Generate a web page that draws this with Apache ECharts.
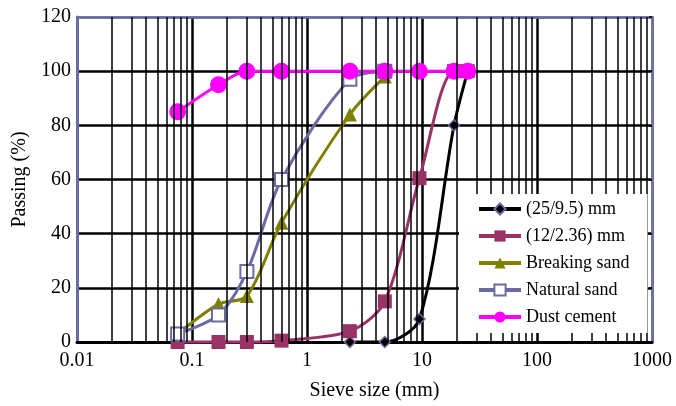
<!DOCTYPE html>
<html>
<head>
<meta charset="utf-8">
<script src="https://cdn.jsdelivr.net/npm/echarts@6/dist/echarts.min.js"></script>
<style>
html,body{margin:0;padding:0;background:#fff;}
#chart{width:676px;height:406px;}
</style>
</head>
<body>
<div id="chart"></div>
<script>
// ---- data ----
const seriesNames = ['(25/9.5) mm', '(12/2.36) mm', 'Breaking sand', 'Natural sand', 'Dust cement'];

const sieve2595 = [2.36, 4.75, 9.5, 19, 25];
const pass2595  = [0, 0, 8.5, 80, 100];

const sieve12236 = [0.075, 0.17, 0.3, 0.6, 2.36, 4.75, 9.5, 19, 25];
const pass12236  = [0, 0, 0, 0.5, 4, 15, 60.5, 100, 100];

const sieveBreaking = [0.075, 0.17, 0.3, 0.6, 2.36, 4.75];
const passBreaking  = [3, 14, 17, 44, 84, 98];

const sieveNatural = [0.075, 0.17, 0.3, 0.6, 2.36, 4.75];
const passNatural  = [3, 10, 26, 60, 97, 100];

const sieveDust = [0.075, 0.17, 0.3, 0.6, 2.36, 4.75, 9.5, 19, 25];
const passDust  = [85, 95, 100, 100, 100, 100, 100, 100, 100];

const yTicks = [0, 20, 40, 60, 80, 100, 120];
const xDecades = [0.01, 0.1, 1, 10, 100, 1000];

// ---- helpers ----
const SERIF = 'Liberation Serif';
const SLATE = '#6B6BA3';
function pairs(xs, ys) { return xs.map((x, i) => [x, ys[i]]); }
// minor log gridlines 2..9 in each decade
const minorLines = [];
for (let d = 0; d < xDecades.length - 1; d++) {
  for (let k = 2; k <= 9; k++) {
    minorLines.push({ xAxis: Number((xDecades[d] * k).toPrecision(6)) });
  }
}
const ySplitColors = yTicks.map((v, i) => i === yTicks.length - 1 ? SLATE : '#000');
const xSplitColors = xDecades.map((v, i) => (i === 0 || i === xDecades.length - 1) ? SLATE : '#000');

const chart = echarts.init(document.getElementById('chart'), null, { renderer: 'canvas' });

function lineSeries(name, data, color, symbol, size, extra) {
  return Object.assign({
    name: name,
    type: 'line',
    data: data,
    smooth: 0.3,
    clip: false,
    symbol: symbol,
    symbolSize: size,
    lineStyle: { color: color, width: 3 },
    itemStyle: { color: color },
    z: 3,
    animation: false
  }, extra || {});
}

chart.setOption({
  backgroundColor: '#fff',
  animation: false,
  textStyle: { fontFamily: SERIF },
  grid: { left: 77, right: 24, top: 17, bottom: 63, containLabel: false },
  legend: {
    data: seriesNames,
    orient: 'vertical',
    left: 459,
    top: 194,
    padding: [6, 18, 7, 18],
    backgroundColor: '#fff',
    itemWidth: 42,
    itemHeight: 14,
    itemGap: 9,
    lineStyle: { width: 4 },
    textStyle: { fontFamily: SERIF, fontSize: 18, color: '#000', lineHeight: 18 },
    z: 10
  },
  xAxis: [{
    type: 'log',
    logBase: 10,
    min: 0.01,
    max: 1000,
    splitNumber: 5,
    name: 'Sieve size (mm)',
    nameLocation: 'middle',
    nameGap: 39,
    nameTextStyle: { fontFamily: SERIF, fontSize: 20, color: '#000', padding: [0, 0, 0, 20] },
    axisLine: { show: true, onZero: false, lineStyle: { color: '#000', width: 3 } },
    axisTick: { show: false },
    axisLabel: {
      fontFamily: SERIF, fontSize: 20, color: '#000', margin: 9,
      formatter: v => String(Number(Number(v).toPrecision(6)))
    },
    splitLine: { show: true, lineStyle: { color: xSplitColors, width: 2.5 } },
    minorTick: { show: false },
    minorSplitLine: { show: false }
  }, {
    type: 'log',
    logBase: 10,
    min: 0.01,
    max: 1000,
    position: 'top',
    axisLine: { show: true, onZero: false, lineStyle: { color: SLATE, width: 2.5 } },
    axisTick: { show: false },
    axisLabel: { show: false },
    splitLine: { show: false }
  }],
  yAxis: [{
    type: 'value',
    min: 0,
    max: 120,
    interval: 20,
    name: 'Passing (%)',
    nameLocation: 'middle',
    nameGap: 40,
    nameRotate: 90,
    nameTextStyle: { fontFamily: SERIF, fontSize: 20, color: '#000' },
    axisLine: { show: true, onZero: false, lineStyle: { color: SLATE, width: 3 } },
    axisTick: { show: false },
    axisLabel: { fontFamily: SERIF, fontSize: 20, color: '#000', margin: 6 },
    splitLine: { show: true, lineStyle: { color: ySplitColors, width: 2.5 } }
  }, {
    type: 'value',
    min: 0,
    max: 120,
    interval: 20,
    position: 'right',
    axisLine: { show: true, onZero: false, lineStyle: { color: SLATE, width: 2.5 } },
    axisTick: { show: true, inside: true, length: 3, lineStyle: { color: '#000', width: 1.5 } },
    axisLabel: { show: false },
    splitLine: { show: false }
  }],
  series: [
    {
      name: 'minor-grid',
      type: 'line',
      data: [],
      silent: true,
      z: 1,
      animation: false,
      markLine: {
        silent: true,
        symbol: ['none', 'none'],
        label: { show: false },
        animation: false,
        lineStyle: { color: '#000', width: 1.5, type: 'solid', opacity: 1 },
        emphasis: { disabled: true },
        data: minorLines
      }
    },
    lineSeries(seriesNames[0], pairs(sieve2595, pass2595), '#000', 'diamond', 11,
      { itemStyle: { color: '#000', borderColor: SLATE, borderWidth: 1.5 } }),
    lineSeries(seriesNames[1], pairs(sieve12236, pass12236), '#993366', 'rect', 14),
    lineSeries(seriesNames[2], pairs(sieveBreaking, passBreaking), '#808000', 'triangle', 14),
    lineSeries(seriesNames[3], pairs(sieveNatural, passNatural), SLATE, 'emptyRect', 13,
      { itemStyle: { color: SLATE, borderColor: SLATE, borderWidth: 2 } }),
    lineSeries(seriesNames[4], pairs(sieveDust, passDust), '#FF00FF', 'circle', 17)
  ]
});
</script>
</body>
</html>
